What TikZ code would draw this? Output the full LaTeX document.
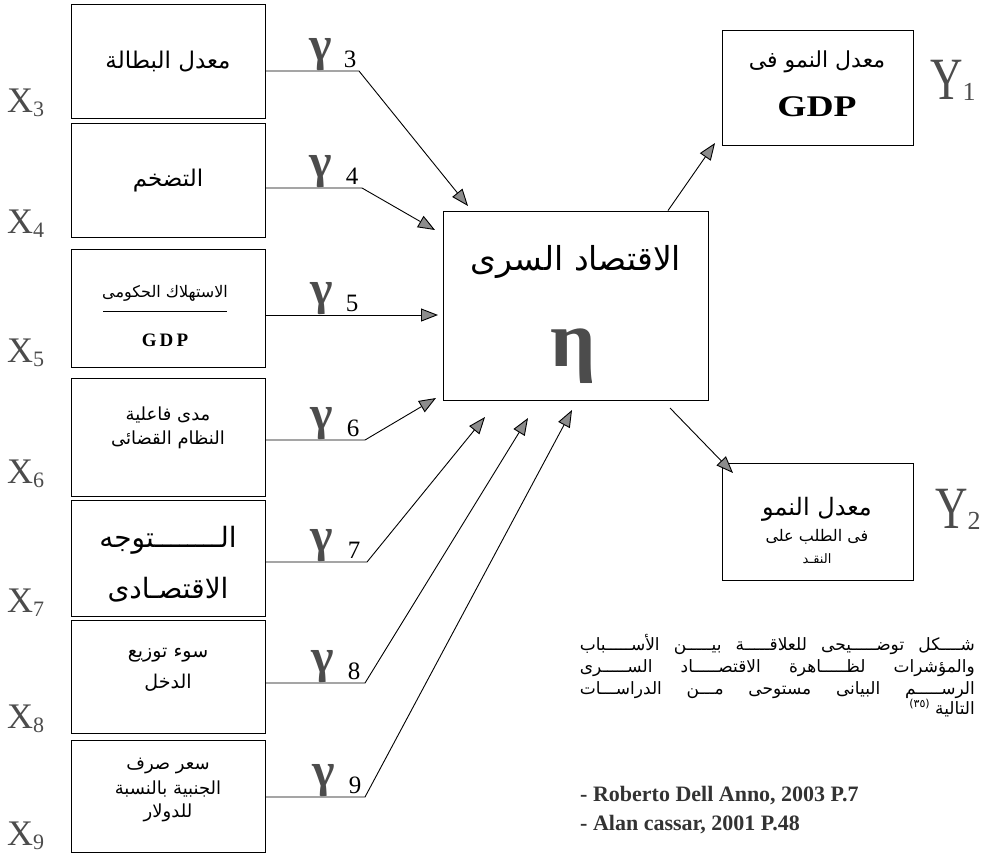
\documentclass[tikz,border=0pt]{standalone}
\usepackage{fontspec}
\usepackage{graphicx}
\setmainfont{Liberation Serif}
\newfontfamily\arabicfont[Script=Arabic]{DejaVu Sans}
\TeXXeTstate=1
\usetikzlibrary{arrows.meta}
\newcommand{\artxt}[1]{{\arabicfont\beginR #1\endR}}
\newcommand{\fs}[1]{\fontsize{#1}{#1}\selectfont}
\tikzset{
  lbox/.style={draw, line width=0.9pt, minimum width=194pt, inner sep=0pt},
  rbox/.style={draw, line width=0.9pt, minimum width=191pt, inner sep=0pt},
  arr/.style={line width=0.9pt, -{Triangle[length=17pt,width=13pt,fill=black!45]}},
  gl/.style={font=\bfseries\fs{48}, text=black!70, inner sep=0pt, anchor=south},
  gn/.style={font=\fs{25}, inner sep=0pt, anchor=base},
  xl/.style={font=\fs{36}, text=black!70, inner sep=0pt, anchor=base west},
  at/.style={inner sep=0pt, font=\arabicfont\fs{#1}},
  at/.default=16,
  captxt/.style={inner sep=0pt, anchor=base east, font=\arabicfont\fs{17}},
  refl/.style={inner sep=0pt, anchor=base west, font=\bfseries\fs{22}, text=black!80},
}
\begin{document}
\begin{tikzpicture}[x=1pt,y=-1pt]
\useasboundingbox (0,0) rectangle (992,855);

% ---------- left boxes ----------
\node[lbox, minimum height=114pt] (b3) at (168,61) {};
\node[lbox, minimum height=114pt] (b4) at (168,180) {};
\node[lbox, minimum height=118pt] (b5) at (168,308) {};
\node[lbox, minimum height=118pt] (b6) at (168,437) {};
\node[lbox, minimum height=116pt] (b7) at (168,558) {};
\node[lbox, minimum height=113pt] (b8) at (168,676.5) {};
\node[lbox, minimum height=112pt] (b9) at (168,796) {};

% box texts
\node[at=23] (b3t) at (168,62) {\artxt{معدل البطالة}};
\node[at=23] (b4t) at (168,181) {\artxt{التضخم}};
\node[at=16] (b5t) at (165,293) {\artxt{الاستهلاك الحكومى}};
\coordinate (f1) at (103,311); \coordinate (f2) at (227,311);
\draw[line width=1pt] (f1) -- (f2);
\node[inner sep=0pt, font=\bfseries\fs{19}] (b5g) at (165,340) {G\,D\,P};
\node[at=18] (b6t1) at (168,415) {\artxt{مدى فاعلية}};
\node[at=18] (b6t2) at (168,440) {\artxt{النظام القضائى}};
\node[at=28] (b7t1) at (168,540) {\artxt{الــــــــتوجه}};
\node[at=28] (b7t2) at (168,590) {\artxt{الاقتصـادى}};
\node[at=19] (b8t1) at (168,655) {\artxt{سوء توزيع}};
\node[at=19] (b8t2) at (168,683) {\artxt{الدخل}};
\node[at=18] (b9t1) at (168,766) {\artxt{سعر صرف}};
\node[at=18] (b9t2) at (168,789) {\artxt{الجنبية بالنسبة}};
\node[at=18] (b9t3) at (168,813) {\artxt{للدولار}};

% X labels
\node[xl] (x3) at (7,112) {X\raisebox{-4pt}{\fs{22}3}};
\node[xl] (x4) at (7,233) {X\raisebox{-4pt}{\fs{22}4}};
\node[xl] (x5) at (7,362) {X\raisebox{-4pt}{\fs{22}5}};
\node[xl] (x6) at (7,483) {X\raisebox{-4pt}{\fs{22}6}};
\node[xl] (x7) at (7,612) {X\raisebox{-4pt}{\fs{22}7}};
\node[xl] (x8) at (7,728) {X\raisebox{-4pt}{\fs{22}8}};
\node[xl] (x9) at (7,845) {X\raisebox{-4pt}{\fs{22}9}};

% ---------- central box ----------
\node[draw, line width=0.9pt, minimum width=265pt, minimum height=189pt, inner sep=0pt] (eta) at (575.5,305.5) {};
\node[at=33] (etat) at (576,262) {\artxt{الاقتصاد السرى}};
\node[inner sep=0pt, font=\bfseries\fs{80}, text=black!70] (etas) at (573,356) {η};

% ---------- gamma connectors ----------
\coordinate (k3) at (359,71);  \coordinate (e3) at (468,206);
\coordinate (k4) at (362,188); \coordinate (e4) at (435,230);
\coordinate (k5) at (300,315); \coordinate (e5) at (438,315);
\coordinate (k6) at (365,440); \coordinate (e6) at (436,398);
\coordinate (k7) at (367,562); \coordinate (e7) at (485,417);
\coordinate (k8) at (365,683); \coordinate (e8) at (528,418);
\coordinate (k9) at (365,797); \coordinate (e9) at (572,410);
\draw[arr] (b3.east |- k3) -- (k3) -- (e3);
\draw[arr] (b4.east |- k4) -- (k4) -- (e4);
\draw[arr] (b5.east |- k5) -- (e5);
\draw[arr] (b6.east |- k6) -- (k6) -- (e6);
\draw[arr] (b7.east |- k7) -- (k7) -- (e7);
\draw[arr] (b8.east |- k8) -- (k8) -- (e8);
\draw[arr] (b9.east |- k9) -- (k9) -- (e9);

\node[gl] (g3) at (321,71) {γ};  \node[gn] (n3) at (350,67) {3};
\node[gl] (g4) at (321,188) {γ}; \node[gn] (n4) at (352,184) {4};
\node[gl] (g5) at (322,315) {γ}; \node[gn] (n5) at (352,311) {5};
\node[gl] (g6) at (322,440) {γ}; \node[gn] (n6) at (353,436) {6};
\node[gl] (g7) at (322,562) {γ}; \node[gn] (n7) at (354,558) {7};
\node[gl] (g8) at (323,683) {γ}; \node[gn] (n8) at (354,679) {8};
\node[gl] (g9) at (324,797) {γ}; \node[gn] (n9) at (355,793) {9};

% ---------- right boxes ----------
\node[rbox, minimum height=115pt] (r1) at (817.5,87.5) {};
\node[at=22] (r1t) at (817,62) {\artxt{معدل النمو فى}};
\node[inner sep=0pt, font=\bfseries\fs{30}] (r1g) at (817,107) {\scalebox{1.25}[1]{GDP}};
\node[inner sep=0pt, anchor=base west, font=\fs{60}, text=black!70] (y1) at (930,99) {\scalebox{0.75}[1]{Y}\raisebox{-1pt}{\fs{26}1}};

\node[rbox, minimum height=117pt] (r2) at (817.5,521.5) {};
\node[at=24] (r2t1) at (817,509) {\artxt{معدل النمو}};
\node[at=16] (r2t2) at (817,537) {\artxt{فى الطلب على}};
\node[at=13] (r2t3) at (817,559) {\artxt{النقـد}};
\node[inner sep=0pt, anchor=base west, font=\fs{60}, text=black!70] (y2) at (935,528) {\scalebox{0.75}[1]{Y}\raisebox{-1pt}{\fs{26}2}};

\coordinate (s1) at (668,211); \coordinate (e1) at (715,143);
\draw[arr] (eta.north -| s1) -- (e1);
\coordinate (s2) at (670,408); \coordinate (e2) at (733,473);
\draw[arr] (s2) -- (e2);

% ---------- caption ----------
\node[captxt] (c1) at (975,650) {\makebox[395pt][s]{\beginR شــــكل توضـــــيحى للعلاقـــــة بيـــــن الأســـــباب\endR}};
\node[captxt] (c2) at (975,672) {\makebox[395pt][s]{\beginR والمؤشرات لظـــــاهرة الاقتصـــــاد الســـــرى\endR}};
\node[captxt] (c3) at (975,694) {\makebox[395pt][s]{\beginR الرســـــم البيانى مستوحى مـــن الدراســـات\endR}};
\node[captxt] (c4) at (975,714) {\beginR التالية\endR};
\node[inner sep=0pt, anchor=base east, font=\arabicfont\fs{11}] (c4s) at (c4.base west) [yshift=7pt, xshift=-5pt] {(٣٥)};

\node[refl] (ref1) at (580,801) {- Roberto Dell Anno, 2003 P.7};
\node[refl] (ref2) at (580,830) {- Alan cassar, 2001 P.48};
\end{tikzpicture}
\end{document}
